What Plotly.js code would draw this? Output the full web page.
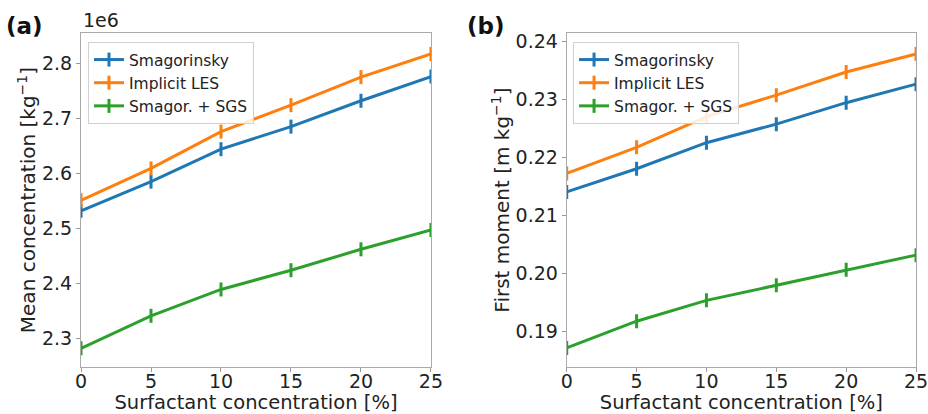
<!DOCTYPE html>
<html>
<head>
<meta charset="utf-8">
<script src="https://cdn.plot.ly/plotly-3.0.1.min.js"></script>
<style>html,body{margin:0;padding:0;background:#fff;}#chart{width:928px;height:414px;}</style>
</head>
<body>
<div id="chart"></div>
<script>
// Data
const surfactant = [0, 5, 10, 15, 20, 25];
const seriesNames = ['Smagorinsky', 'Implicit LES', 'Smagor. + SGS'];
const seriesColors = ['#1f77b4', '#ff7f0e', '#2ca02c'];

// Panel (a): mean concentration [kg^-1]
const meanSmagorinsky = [2.532e6, 2.585e6, 2.644e6, 2.685e6, 2.732e6, 2.776e6];
const meanImplicitLES = [2.551e6, 2.609e6, 2.676e6, 2.724e6, 2.775e6, 2.817e6];
const meanSmagorSGS   = [2.282e6, 2.341e6, 2.389e6, 2.424e6, 2.462e6, 2.497e6];

// Panel (b): first moment [m kg^-1]
const momentSmagorinsky = [0.2140, 0.2180, 0.2225, 0.2257, 0.2294, 0.2326];
const momentImplicitLES = [0.2172, 0.2217, 0.2270, 0.2307, 0.2347, 0.2378];
const momentSmagorSGS   = [0.1871, 0.1917, 0.1953, 0.1979, 0.2006, 0.2031];

const xTickLabels = ['0', '5', '10', '15', '20', '25'];
const yTickLabelsA = ['2.3', '2.4', '2.5', '2.6', '2.7', '2.8'];
const yTickLabelsB = ['0.19', '0.20', '0.21', '0.22', '0.23', '0.24'];

const FONT = 'DejaVu Sans, Verdana, sans-serif';

function mk(y, i, xa, ya) {
  return {
    x: surfactant, y: y, name: seriesNames[i], type: 'scatter', mode: 'lines+markers',
    xaxis: xa, yaxis: ya, showlegend: true, legend: xa === 'x' ? 'legend' : 'legend2',
    line: {color: seriesColors[i], width: 3},
    marker: {symbol: 'line-ns', size: 10, color: seriesColors[i], line: {color: seriesColors[i], width: 3}}
  };
}

const data = [
  mk(meanSmagorinsky, 0, 'x', 'y'),
  mk(meanImplicitLES, 1, 'x', 'y'),
  mk(meanSmagorSGS, 2, 'x', 'y'),
  mk(momentSmagorinsky, 0, 'x2', 'y2'),
  mk(momentImplicitLES, 1, 'x2', 'y2'),
  mk(momentSmagorSGS, 2, 'x2', 'y2')
];

const axisCommon = {
  showgrid: false, zeroline: false, showline: true, mirror: true,
  linecolor: '#aaaaaa', linewidth: 1,
  ticks: 'outside', ticklen: 4, tickwidth: 1, tickcolor: '#999',
  tickfont: {family: FONT, size: 19, color: '#222'},
  automargin: true, ticklabeloverflow: 'allow'
};

const xTickVals = xTickLabels.map(Number);
const titleFont = {family: FONT, size: 20, color: '#222'};
const xTitleFont = {family: FONT, size: 19.5, color: '#222'};

const legendCommon = {
  font: {family: FONT, size: 15.5, color: '#222'},
  bgcolor: 'rgba(255,255,255,0.85)', bordercolor: '#d0d0d0', borderwidth: 1,
  xanchor: 'left', yanchor: 'top', tracegroupgap: 0, itemwidth: 30
};

const layout = {
  width: 928, height: 414,
  margin: {l: 0, r: 0, t: 0, b: 0, autoexpand: false},
  paper_bgcolor: '#fff', plot_bgcolor: '#fff',
  font: {family: FONT, color: '#222'},
  xaxis: Object.assign({}, axisCommon, {
    domain: [0.0873, 0.4644], range: [0, 25], anchor: 'y', ticklabelstandoff: -7,
    tickvals: xTickVals, ticktext: xTickLabels,
    title: {text: 'Surfactant concentration [%]', font: xTitleFont, standoff: 3}
  }),
  yaxis: Object.assign({}, axisCommon, {
    domain: [0.1135, 0.920], range: [2.248e6, 2.855e6], anchor: 'x',
    tickvals: yTickLabelsA.map(v => parseFloat(v) * 1e6), ticktext: yTickLabelsA,
    title: {text: 'Mean concentration [kg<sup>−1</sup>]', font: titleFont, standoff: 0}
  }),
  xaxis2: Object.assign({}, axisCommon, {
    domain: [0.6107, 0.9871], range: [0, 25], anchor: 'y2', ticklabelstandoff: -7,
    tickvals: xTickVals, ticktext: xTickLabels,
    title: {text: 'Surfactant concentration [%]', font: xTitleFont, standoff: 3}
  }),
  yaxis2: Object.assign({}, axisCommon, {
    domain: [0.1135, 0.920], range: [0.1838, 0.2414], anchor: 'x2',
    tickvals: yTickLabelsB.map(Number), ticktext: yTickLabelsB,
    title: {text: 'First moment [m kg<sup>−1</sup>]', font: titleFont, standoff: 0}
  }),
  legend: Object.assign({}, legendCommon, {x: 0.0948, y: 0.8986}),
  legend2: Object.assign({}, legendCommon, {x: 0.6175, y: 0.8986}),
  annotations: [
    {text: '<b>(a)</b>', xref: 'paper', yref: 'paper', x: 4 / 928, y: 1 - 11 / 414, xanchor: 'left', yanchor: 'top',
     showarrow: false, font: {family: FONT, size: 23, color: '#111'}},
    {text: '<b>(b)</b>', xref: 'paper', yref: 'paper', x: 465 / 928, y: 1 - 11 / 414, xanchor: 'left', yanchor: 'top',
     showarrow: false, font: {family: FONT, size: 23, color: '#111'}},
    {text: '1e6', xref: 'paper', yref: 'paper', x: 81 / 928, y: 1 - 33 / 414, xanchor: 'left', yanchor: 'bottom',
     showarrow: false, font: {family: FONT, size: 19, color: '#222'}}
  ]
};

Plotly.newPlot('chart', data, layout, {displayModeBar: false, staticPlot: true});
</script>
</body>
</html>
